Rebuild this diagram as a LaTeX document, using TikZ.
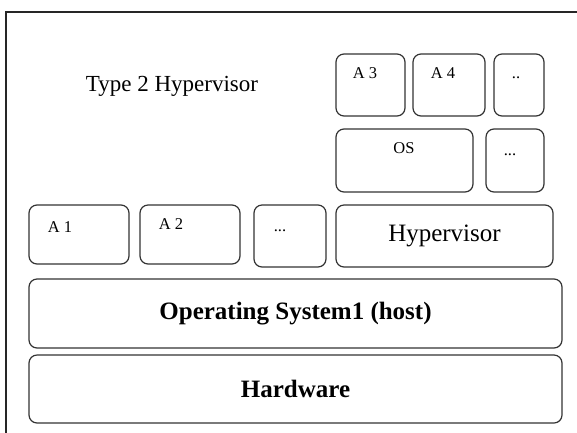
\documentclass[tikz,border=0pt]{standalone}
\usepackage{fontspec}
\setmainfont{Liberation Serif}
\usepackage{tikz}
\usetikzlibrary{positioning}

\begin{document}
\begin{tikzpicture}[x=1pt, y=-1pt, node distance=10pt,
	box/.style={draw=black!80, line width=1.2pt, rounded corners=8pt, inner sep=0pt, outer sep=0pt},
	lbl/.style={font=\fontsize{16.5}{16.5}\selectfont, anchor=base, inner sep=0pt},
	big/.style={font=\fontsize{25}{25}\selectfont}]
	\useasboundingbox (0,0) rectangle (577,432);
	\clip (0,0) rectangle (577,432);
	\draw[line width=1.7pt, black!85] (6,12) rectangle (590,445);

	\node[anchor=base, font=\fontsize{23}{23}\selectfont] (title) at (172,91) {Type 2 Hypervisor};

	\node[box, big, minimum width=533pt, minimum height=68pt] (hw) at (295.5,389) {\bfseries Hardware};
	\node[box, big, minimum width=533pt, minimum height=69pt, above=7pt of hw] (host) {\bfseries Operating System1 (host)};

	\node[box, minimum width=100pt, minimum height=59pt, above=15pt of host.north west, anchor=south west] (a1) {};
	\node[box, minimum width=100pt, minimum height=59pt, right=11pt of a1] (a2) {};
	\node[box, minimum width=72pt, minimum height=62pt, right=14pt of a2.north east, anchor=north west] (d1) {};
	\node[box, big, minimum width=217pt, minimum height=62pt, right=10pt of d1] (hyp) {Hypervisor};

	\node[box, minimum width=137pt, minimum height=63pt, above=13pt of hyp.north west, anchor=south west] (os) {};
	\node[box, minimum width=58pt, minimum height=63pt, right=13pt of os] (d2) {};

	\node[box, minimum width=69pt, minimum height=62pt, above=13pt of os.north west, anchor=south west] (a3) {};
	\node[box, minimum width=72pt, minimum height=62pt, right=8pt of a3] (a4) {};
	\node[box, minimum width=50pt, minimum height=62pt, right=9pt of a4] (d3) {};

	\node[lbl] (a1t) at ([xshift=31pt, yshift=-27pt]a1.north west) {A 1};
	\node[lbl] (a2t) at ([xshift=31pt, yshift=-24pt]a2.north west) {A 2};
	\node[lbl] (d1t) at ([xshift=26pt, yshift=-26pt]d1.north west) {...};
	\node[lbl] (ost) at ([xshift=68pt, yshift=-24pt]os.north west) {OS};
	\node[lbl] (d2t) at ([xshift=24pt, yshift=-26pt]d2.north west) {...};
	\node[lbl] (a3t) at ([xshift=29pt, yshift=-24pt]a3.north west) {A 3};
	\node[lbl] (a4t) at ([xshift=30pt, yshift=-24pt]a4.north west) {A 4};
	\node[lbl] (d3t) at ([xshift=22pt, yshift=-24pt]d3.north west) {..};
\end{tikzpicture}
\end{document}
